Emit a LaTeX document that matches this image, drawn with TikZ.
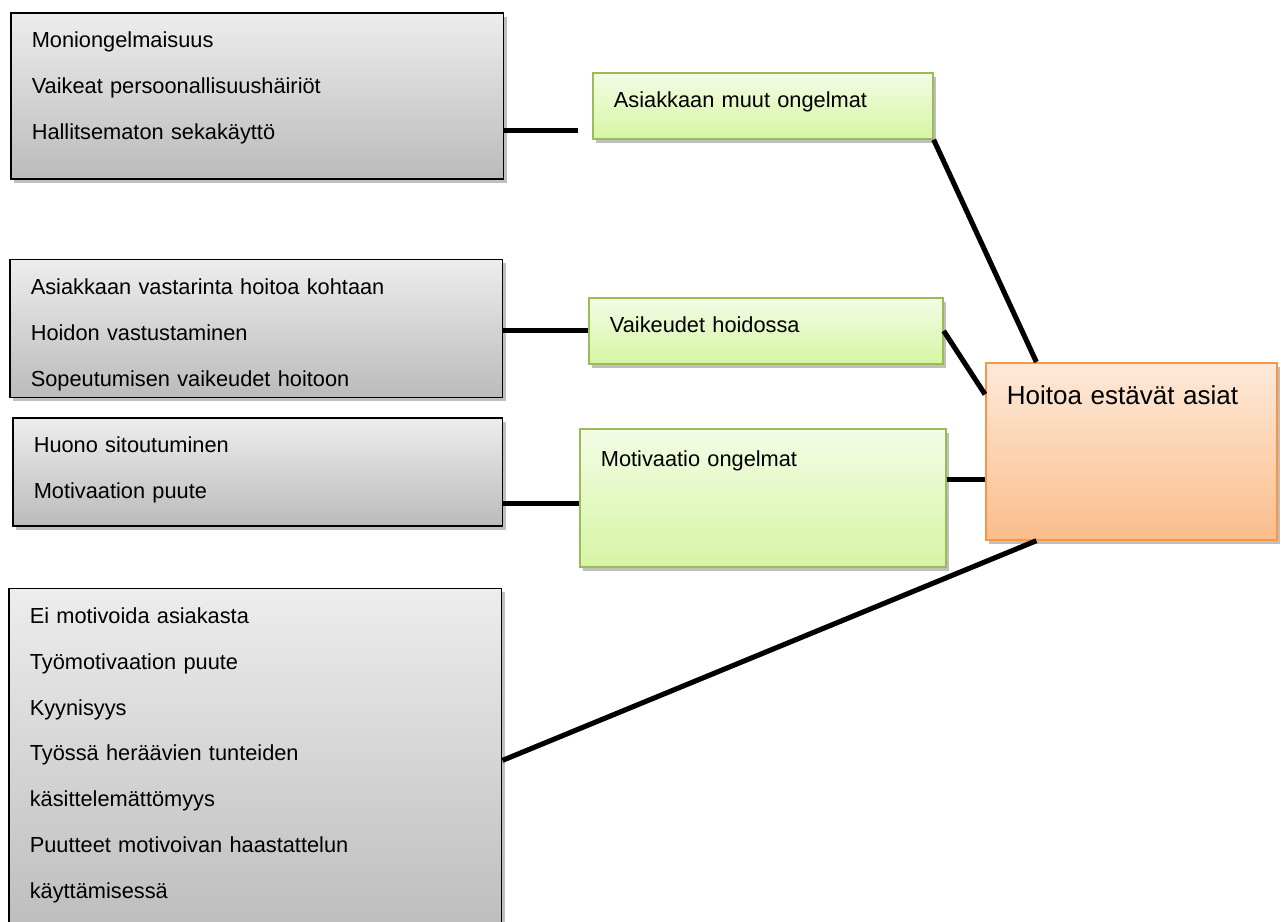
\documentclass[tikz,border=0pt]{standalone}
\usepackage{fontspec}
\setmainfont{Liberation Sans}
\usepackage{tikz}
\usetikzlibrary{positioning, shadows}
\definecolor{greytop}{HTML}{EDEDED}
\definecolor{greybot}{HTML}{BBBBBB}
\definecolor{greentop}{HTML}{F3FCE6}
\definecolor{greenbot}{HTML}{D6F5A3}
\definecolor{greenedge}{HTML}{9BBB59}
\definecolor{orangetop}{HTML}{FDE9D9}
\definecolor{orangebot}{HTML}{FBBD8B}
\definecolor{orangeedge}{HTML}{F79646}
\tikzset{
    link/.style={line width=2.9pt},
    basebox/.style={rectangle, anchor=north west, align=left, inner xsep=0.42cm, inner ysep=0pt, text height=0.7cm,
        drop shadow={shadow xshift=0.06cm, shadow yshift=-0.08cm, opacity=0.25, fill=black}},
    greybox/.style={basebox, draw=black, line width=0.9pt, top color=greytop, bottom color=greybot, font=\fontsize{12.4}{26.1}\selectfont},
    greenbox/.style={basebox, draw=greenedge, line width=1pt, top color=greentop, bottom color=greenbot, font=\fontsize{12.4}{15}\selectfont},
    orangebox/.style={basebox, draw=orangeedge, line width=1pt, top color=orangetop, bottom color=orangebot, font=\fontsize{14.8}{18}\selectfont, text height=0.84cm}
}
\begin{document}
\begin{tikzpicture}[x=0.02cm, y=-0.02cm]
    \useasboundingbox (0,0) rectangle (1281,922);
    % causes on the left
    \node (g1) [greybox, text width=9.02cm, text depth=2.62cm] at (10,12) {Moniongelmaisuus\\Vaikeat persoonallisuushäiriöt\\Hallitsematon sekakäyttö};
    \node (g2) [greybox, text width=9.02cm, text depth=2.06cm, below right=1.58cm and -0.02cm of g1.south west] {Asiakkaan vastarinta hoitoa kohtaan\\Hoidon vastustaminen\\Sopeutumisen vaikeudet hoitoon};
    \node (g3) [greybox, text width=8.96cm, text depth=1.46cm, below right=0.38cm and 0.06cm of g2.south west] {Huono sitoutuminen\\Motivaation puute};
    \node (g4) [greybox, text width=9.02cm, text depth=6.44cm, below right=1.22cm and -0.08cm of g3.south west] {Ei motivoida asiakasta\\Työmotivaation puute\\Kyynisyys\\Työssä heräävien tunteiden\\käsittelemättömyys\\Puutteet motivoivan haastattelun\\käyttämisessä};
    % groups
    \node (v1) [greenbox, text width=5.96cm, text depth=0.62cm] at (592,72) {Asiakkaan muut ongelmat};
    \node (v2) [greenbox, text width=6.24cm, text depth=0.62cm] at (588,297) {Vaikeudet hoidossa};
    \node (v3) [greenbox, text width=6.48cm, text height=0.76cm, text depth=2.0cm] at (579,428) {Motivaatio ongelmat};
    \node (o) [orangebox, text width=4.98cm, text depth=2.70cm] at (985,362) {Hoitoa estävät asiat};
    % connectors
    \draw [link, shorten >=0.28cm] ([yshift=-0.7cm]g1.east) -- ([yshift=-0.7cm]g1.east -| v1.west);
    \draw [link] (g2.east |- v2.west) -- (v2.west);
    \draw [link] ([yshift=-0.12cm]v3.west -| g3.east) -- ([yshift=-0.12cm]v3.west);
    \draw [link] ([yshift=0.36cm]v3.east) -- ([yshift=0.36cm]v3.east -| o.west);
    \draw [link] (v1.south east) -- ([xshift=-1.9cm]o.north);
    \draw [link] (v2.east) -- ([yshift=1.14cm]o.west);
    \draw [link] ([yshift=0.13cm]g4.east) -- ([xshift=-1.9cm]o.south);
\end{tikzpicture}
\end{document}
